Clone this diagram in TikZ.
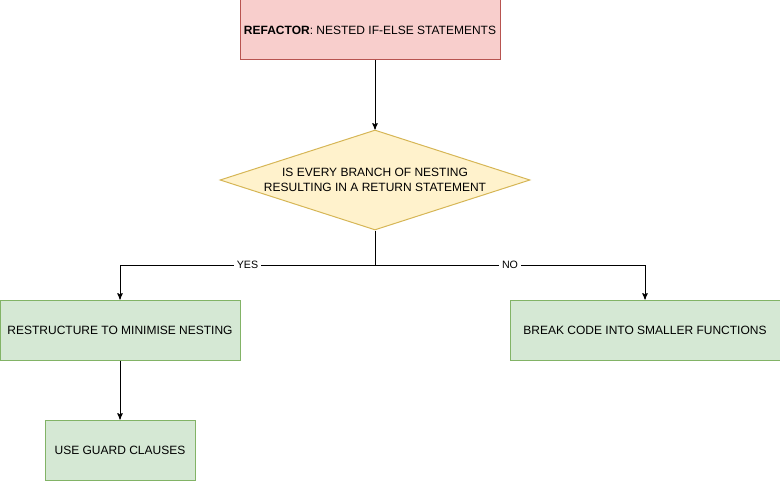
\documentclass[tikz,border=0pt]{standalone}
\usepackage{fontspec}
\setmainfont{Liberation Sans}
\usetikzlibrary{arrows,shapes.geometric}

\definecolor{redfill}{HTML}{F8CECC}
\definecolor{redline}{HTML}{B85450}
\definecolor{yellowfill}{HTML}{FFF2CC}
\definecolor{yellowline}{HTML}{D6B656}
\definecolor{greenfill}{HTML}{D5E8D4}
\definecolor{greenline}{HTML}{82B366}

\tikzset{
  box/.style={rectangle, draw, line width=0.75pt, inner sep=0pt, font=\fontsize{9}{11}\selectfont},
  refbox/.style={box, fill=redfill, draw=redline},
  actbox/.style={box, fill=greenfill, draw=greenline},
  decbox/.style={diamond, draw=yellowline, fill=yellowfill, line width=0.75pt, inner sep=0pt, aspect=3.1,
    minimum width=232.5pt, minimum height=75pt, align=center, font=\fontsize{9}{11}\selectfont},
  lbl/.style={fill=white, inner sep=2pt, font=\fontsize{8}{10}\selectfont},
  link/.style={line width=0.75pt, ->, >=stealth'}
}

\begin{document}
\begin{tikzpicture}[x=0.75pt, y=-0.75pt]
  \useasboundingbox (0,0) rectangle (780,481);

  \node[refbox, minimum width=195pt, minimum height=45pt] (refactor) at (370,30) {\textbf{REFACTOR}: NESTED IF-ELSE STATEMENTS};
  \node[decbox] (every) at (375,180) {IS EVERY BRANCH OF NESTING\\RESULTING IN A RETURN STATEMENT};
  \node[actbox, minimum width=180pt, minimum height=45pt] (restructure) at (120,330) {RESTRUCTURE TO MINIMISE NESTING};
  \node[actbox, minimum width=202.5pt, minimum height=45pt] (smaller) at (645,330) {BREAK CODE INTO SMALLER FUNCTIONS};
  \node[actbox, minimum width=112.5pt, minimum height=45pt] (guard) at (120,450) {USE GUARD CLAUSES};

  \coordinate (split) at (375,265);

  \draw[link] (every.north |- refactor.south) -- (every.north);
  \draw[line width=0.75pt] (every.south) -- (split);
  \draw[link] (split) -| node[pos=0.25, lbl] {YES} (restructure.north);
  \draw[link] (split) -| node[pos=0.25, lbl] {NO} (smaller.north);
  \draw[link] (restructure.south) -- (guard.north);
\end{tikzpicture}
\end{document}
